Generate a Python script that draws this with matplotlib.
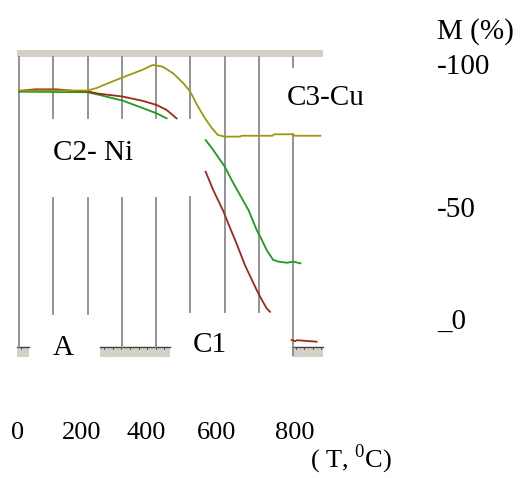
import matplotlib
matplotlib.use('Agg')
from matplotlib import pyplot as plt

plt.rcParams['font.family'] = ['Liberation Serif', 'DejaVu Serif']
plt.rcParams['mathtext.fontset'] = 'custom'
plt.rcParams['mathtext.rm'] = 'Liberation Serif'

# C3-Cu (olive)
cu_T = [0, 200, 225, 300, 360, 390, 420, 450, 480, 500, 520, 540, 560, 580, 600, 645, 650, 740, 745, 800, 805, 880]
cu_M = [91.2, 91.2, 92.0, 95.6, 98.3, 100.0, 99.4, 97.1, 93.7, 90.8, 86.2, 82.2, 78.7, 75.9, 75.3, 75.3, 75.6, 75.6, 76.1, 76.1, 75.6, 75.6]

# C1 (red), three pieces
c1_T1 = [0, 45, 110, 165, 200, 227, 303, 362, 402, 431, 460]
c1_M1 = [91.0, 91.6, 91.6, 91.0, 90.9, 90.2, 89.1, 87.6, 86.2, 84.5, 81.6]
c1_T2 = [545, 567, 597, 611, 636, 660, 694, 709, 723, 733]
c1_M2 = [63.2, 56.9, 49.5, 45.3, 38.2, 30.9, 22.4, 19.0, 16.1, 14.9]
c1_T3 = [796, 806, 812, 869]
c1_M3 = [5.2, 4.8, 5.1, 4.6]

# C2-Ni (green), two pieces
ni_T1 = [0, 200, 227, 303, 362, 402, 431]
ni_M1 = [90.8, 90.6, 89.9, 87.7, 85.1, 83.3, 81.6]
ni_T2 = [545, 567, 601, 621, 645, 670, 694, 709, 723, 742, 757, 782, 801, 822]
ni_M2 = [74.1, 70.7, 64.9, 60.3, 55.2, 50.0, 43.1, 39.7, 36.2, 32.8, 32.2, 31.8, 32.2, 31.6]

x_ticks = ['0', '200', '400', '600', '800']
x_tick_pos = [-3, 183, 371, 578, 806]
m_labels = ['-100', '-50', '_0']
m_label_pos = [99.4, 50.0, 11.4]

# vertical guide lines: (T, [(M_bottom, M_top), ...])
guides = [
    (0, [(2.8, 102.8)]),
    (100, [(81.7, 102.8), (14.1, 54.1)]),
    (200, [(81.7, 102.8), (14.1, 54.1)]),
    (300, [(81.7, 102.8), (2.8, 54.1)]),
    (400, [(81.7, 102.8), (2.8, 54.1)]),
    (500, [(81.7, 102.8), (14.8, 54.4)]),
    (600, [(14.8, 102.8)]),
    (700, [(14.8, 102.8)]),
    (800, [(99.3, 102.8), (0.0, 76.2)]),
]

fig = plt.figure(figsize=(5.21, 4.78), dpi=100)
ax = fig.add_axes([0, 0, 1, 1])
ax.set_xlim(-55.5, 1465.7)
ax.set_ylim(-42.4, 122.4)
ax.axis('off')

bar_col = '#d4d0c8'
# top bar
ax.fill_between([-6, 888], 102.8, 105.2, color=bar_col, lw=0)
# bottom bar pieces
for a, b in [(-7, 30), (237, 441), (796, 888)]:
    ax.fill_between([a, b], -0.7, 2.8, color=bar_col, lw=0)
    ax.plot([a, b], [2.8, 2.8], color='#404040', lw=1.0)
    t = a + 12
    while t < b:
        ax.plot([t, t], [2.8, 2.0], color='#404040', lw=0.6)
        t += 25

for T, segs in guides:
    for lo, hi in segs:
        ax.plot([T, T], [lo, hi], color='#8a8a8a', lw=1.3)

olive = '#9a9a10'
red = '#a02818'
green = '#1e9a1e'
ax.plot(ni_T1, ni_M1, color=green, lw=1.3)
ax.plot(c1_T1, c1_M1, color=red, lw=1.3)
ax.plot(cu_T, cu_M, color=olive, lw=1.3)
ax.plot(c1_T2, c1_M2, color=red, lw=1.3)
ax.plot(c1_T3, c1_M3, color=red, lw=1.3)
ax.plot(ni_T2, ni_M2, color=green, lw=1.3)

ax.text(99, 69.7, 'C2- Ni', fontsize=21, va='center', ha='left')
ax.text(782, 88.6, 'C3-Cu', fontsize=21, va='center', ha='left')
ax.text(128, 2.4, 'A', fontsize=21, va='center', ha='center')
ax.text(508, 3.4, 'C1', fontsize=21, va='center', ha='left')

for lab, p in zip(x_ticks, x_tick_pos):
    ax.text(p, -26.8, lab, fontsize=19, va='center', ha='center')
ax.text(850, -41.8, r'( T, $^{\mathregular{0}}$C)', fontsize=19, va='bottom', ha='left')

ax.text(1220, 111.7, 'M (%)', fontsize=21, va='center', ha='left')
for lab, p in zip(m_labels, m_label_pos):
    ax.text(1220, p, lab, fontsize=21, va='center', ha='left')

fig.savefig('out.png', dpi=100)
